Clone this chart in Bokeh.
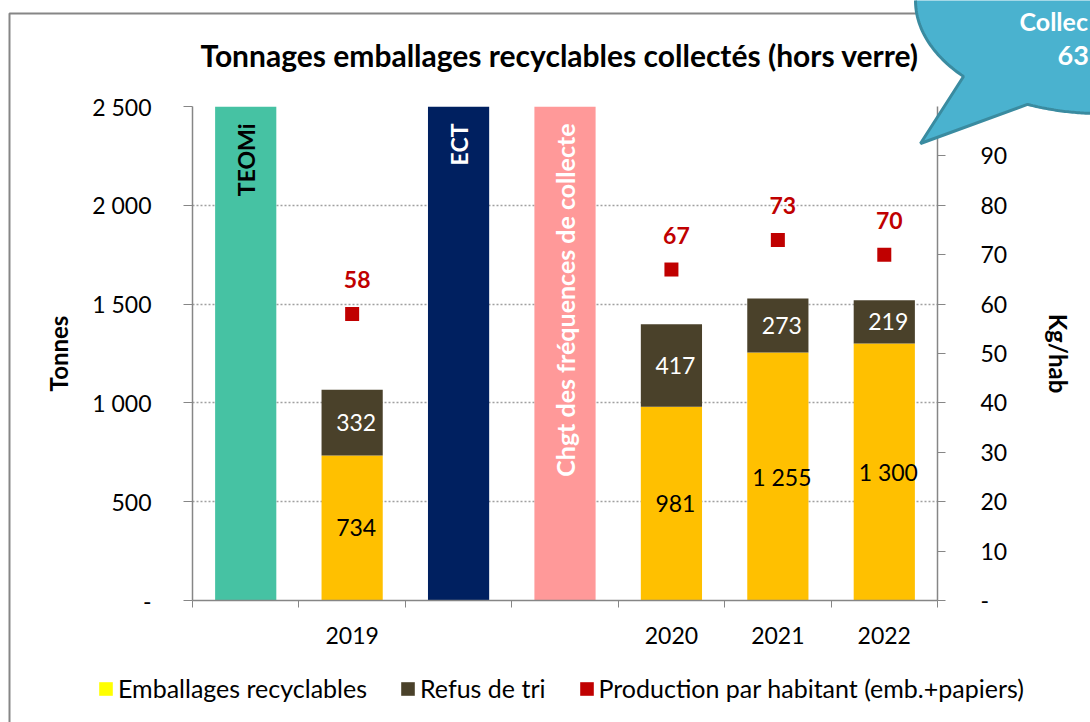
import math
from bokeh.plotting import figure
from bokeh.models import (Range1d, LinearAxis, FixedTicker, Legend, LegendItem)
from bokeh.core.properties import value
from bokeh.embed import file_html
from bokeh.resources import INLINE

# ---------------- data ----------------
slot_labels = ["", "2019", "", "", "2020", "2021", "2022"]
event_names = ["TEOMi", "ECT", "Chgt des fréquences de collecte"]
event_slots = [0, 2, 3]
event_height = [2500, 2500, 2500]
event_colors = ["#46C2A3", "#002060", "#FF9999"]
event_text_colors = ["#000000", "#FFFFFF", "#FFFFFF"]

years = ["2019", "2020", "2021", "2022"]
year_slots = [1, 4, 5, 6]
emballages = [734, 981, 1255, 1300]
refus = [332, 417, 273, 219]
production = [58, 67, 73, 70]

left_ticks = [0, 500, 1000, 1500, 2000, 2500]
left_tick_labels = ["-", "500", "1 000", "1 500", "2 000", "2 500"]
right_ticks = [0, 10, 20, 30, 40, 50, 60, 70, 80, 90]
right_tick_labels = ["-", "10", "20", "30", "40", "50", "60", "70", "80", "90"]

legend_labels = ["Emballages recyclables", "Refus de tri",
                 "Production par habitant (emb.+papiers)"]
callout_title = "Collec"
callout_value = "63"

FONT = "Lato"
GRAY = "#868686"
YELLOW = "#FFC000"
LEG_YELLOW = "#FFFF00"
DARK = "#4A412A"
RED = "#C00000"


def fmt(v):
    return f"{v:,}".replace(",", " ")


W, H = 1090, 722
p = figure(width=W, height=H, output_backend="svg", toolbar_location=None,
           x_range=Range1d(0, 7), y_range=Range1d(0, 2500),
           min_border_left=192, min_border_right=153,
           min_border_top=105, min_border_bottom=122)
p.outline_line_color = None
p.background_fill_color = "white"
p.border_fill_color = "white"
p.extra_y_ranges = {"kg": Range1d(0, 100)}

# ---- bottom axis ----
xa = p.xaxis[0]
xa.ticker = FixedTicker(ticks=[i + 0.5 for i in range(len(slot_labels))],
                        minor_ticks=list(range(len(slot_labels) + 1)))
xa.major_label_overrides = {i + 0.5: lab for i, lab in enumerate(slot_labels)}
xa.major_tick_out = 0
xa.major_tick_in = 0
xa.minor_tick_out = 7
xa.minor_tick_in = 0
xa.minor_tick_line_color = GRAY
xa.axis_line_color = GRAY
xa.axis_line_width = 1.5
xa.major_label_standoff = 19
xa.major_label_text_font = FONT
xa.major_label_text_font_size = "23px"
xa.major_label_text_color = "black"

# ---- left axis ----
ya = p.yaxis[0]
ya.ticker = FixedTicker(ticks=left_ticks, minor_ticks=[])
ya.major_label_overrides = {t: l for t, l in zip(left_ticks, left_tick_labels)}
ya.major_tick_out = 9
ya.major_tick_in = 0
ya.major_tick_line_color = GRAY
ya.axis_line_color = GRAY
ya.axis_line_width = 1.5
ya.major_label_standoff = 32
ya.major_label_text_font = FONT
ya.major_label_text_font_size = "23px"
ya.major_label_text_color = "black"
ya.axis_label = "Tonnes"
ya.axis_label_text_font = FONT
ya.axis_label_text_font_style = "bold"
ya.axis_label_text_font_size = "24px"
ya.axis_label_text_color = "black"
ya.axis_label_standoff = 16

# ---- right axis ----
ra = LinearAxis(y_range_name="kg",
                ticker=FixedTicker(ticks=right_ticks, minor_ticks=[]))
ra.major_label_overrides = {t: l for t, l in zip(right_ticks, right_tick_labels)}
ra.major_tick_out = 8
ra.major_tick_in = 0
ra.major_tick_line_color = GRAY
ra.axis_line_color = GRAY
ra.axis_line_width = 1.5
ra.major_label_standoff = 35
ra.major_label_text_font = FONT
ra.major_label_text_font_size = "23px"
ra.major_label_text_color = "black"
ra.axis_label = "Kg/hab"
ra.axis_label_text_font = FONT
ra.axis_label_text_font_style = "bold"
ra.axis_label_text_font_size = "24px"
ra.axis_label_text_color = "black"
ra.axis_label_standoff = 34
p.add_layout(ra, "right")

# ---- grid ----
p.xgrid.visible = False
p.ygrid.ticker = FixedTicker(ticks=left_ticks, minor_ticks=[])
p.ygrid.grid_line_color = "#A0A0A0"
p.ygrid.grid_line_dash = "2 2"
p.ygrid.grid_line_width = 1.5

BAR_W = 0.575

# ---- event bars ----
ex = [s + 0.5 for s in event_slots]
p.vbar(x=ex, bottom=0, top=event_height, width=BAR_W,
       fill_color=event_colors, line_color=None)
p.text(x=ex, y=event_height, text=event_names, angle=math.pi / 2,
       text_align="right", text_baseline="middle", y_offset=17,
       text_color=event_text_colors, text_font=value(FONT), text_font_style="bold",
       text_font_size=["23px", "23px", "25px"])

# ---- stacked bars ----
yx = [s + 0.5 for s in year_slots]
tops = [a + b for a, b in zip(emballages, refus)]
p.vbar(x=yx, bottom=0, top=emballages, width=BAR_W, fill_color=YELLOW, line_color=None)
p.vbar(x=yx, bottom=emballages, top=tops, width=BAR_W, fill_color=DARK, line_color=None)

p.text(x=yx, y=[v / 2 for v in emballages], text=[fmt(v) for v in emballages],
       x_offset=4, text_align="center", text_baseline="middle",
       text_color="black", text_font=value(FONT), text_font_size="23px")
p.text(x=yx, y=[a + b / 2 for a, b in zip(emballages, refus)], text=[fmt(v) for v in refus],
       x_offset=4, text_align="center", text_baseline="middle",
       text_color="white", text_font=value(FONT), text_font_size="23px")

# ---- production per inhabitant ----
p.scatter(x=yx, y=production, y_range_name="kg", marker="square", size=14,
          fill_color=RED, line_color=None)
p.text(x=yx, y=production, y_range_name="kg", text=[str(v) for v in production],
       x_offset=5, y_offset=-34, text_align="center", text_baseline="middle",
       text_color=RED, text_font=value(FONT), text_font_style="bold", text_font_size="23px")

# ---- title ----
p.title.text = "Tonnages emballages recyclables collectés (hors verre)"
p.title.align = "left"
p.title.offset = 8
p.title.text_font = FONT
p.title.text_font_style = "bold"
p.title.text_font_size = "30px"
p.title.text_color = "black"
p.title.standoff = 68

# ============ overlay: chart frame, callout and legend ============
q = figure(width=W, height=H, output_backend="svg", toolbar_location=None,
           x_range=Range1d(0, W), y_range=Range1d(H, 0),
           x_axis_location=None, y_axis_location=None,
           min_border_left=0, min_border_right=0, min_border_top=0, min_border_bottom=0)
q.grid.visible = False
q.outline_line_color = None
q.background_fill_alpha = 0
q.border_fill_alpha = 0
q.styles = {"position": "absolute", "left": "0px", "top": "0px"}

# outer chart-area frame
q.line(x=[9, 9, 1000], y=[H + 20, 13, 13], line_color=GRAY, line_width=2)

# callout bubble (rounded corner + wedge tail)
cx, cy, a, b = 1100, 0, 185, 113
t0 = math.acos((cx - 963) / a)
t1 = math.acos((cx - 1027) / a)
n = 40
bx, by = [915], [-60]
for i in range(n + 1):
    t = t0 * i / n
    bx.append(cx - a * math.cos(t)); by.append(cy + b * math.sin(t))
bx.append(920); by.append(143)
for i in range(n + 1):
    t = t1 + (math.pi / 2 - t1) * i / n
    bx.append(cx - a * math.cos(t)); by.append(cy + b * math.sin(t))
bx += [1300, 1300]; by += [cy + b, -60]
q.patch(x=bx, y=by, fill_color="#4AB2CF", line_color="#3A8BA0", line_width=3)
q.text(x=[1019], y=[20], text=[callout_title], text_align="left",
       text_baseline="middle", text_color="white", text_font=value(FONT),
       text_font_style="bold", text_font_size="25px")
q.text(x=[1057], y=[55], text=[callout_value], text_align="left",
       text_baseline="middle", text_color="white", text_font=value(FONT),
       text_font_style="bold", text_font_size="27px")

# legend swatch proxies (single point each, lying outside the visible canvas)
sw = [q.quad(left=[-40], right=[-30], top=[-40], bottom=[-30], fill_color=c, line_color=None)
      for c in (LEG_YELLOW, DARK, RED)]
legend = Legend(items=[LegendItem(label=l, renderers=[r]) for l, r in zip(legend_labels, sw)],
                orientation="horizontal", location=(97, 19),
                glyph_width=17, glyph_height=17, label_standoff=4, spacing=32,
                padding=0, margin=0, border_line_color=None,
                background_fill_alpha=0,
                label_text_font=FONT, label_text_font_size="25px",
                label_text_color="black")
q.add_layout(legend, "center")

open("out.html", "w").write(file_html([p, q], INLINE))
